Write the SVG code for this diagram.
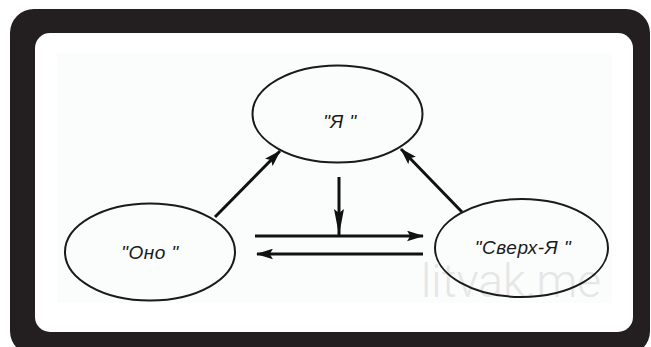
<svg xmlns="http://www.w3.org/2000/svg" width="651" height="347" viewBox="0 0 651 347">
<defs>
<style>
.node{fill:none;stroke:#1a1a1a;stroke-width:2}
.lbl{font-family:"Liberation Sans",Arial,sans-serif;font-style:italic;font-size:19px;fill:#1a1a1a;text-anchor:middle;letter-spacing:0.5px}
.edge{stroke:#111;stroke-width:3;fill:none}
</style>
<marker id="ah" viewBox="0 0 16 10" refX="15" refY="5" markerWidth="17" markerHeight="11" markerUnits="userSpaceOnUse" orient="auto">
<path d="M0,0 L16,5 L0,10 L3,5 Z" fill="#111"/>
</marker>
<marker id="ahn" viewBox="0 0 26 10" refX="26" refY="5" markerWidth="26" markerHeight="10" markerUnits="userSpaceOnUse" orient="auto">
<path d="M0,0 L26,5 L0,10 L4,5 Z" fill="#111"/>
</marker>
</defs>
<rect x="10" y="9" width="640" height="346" rx="24" fill="#231f20"/>
<rect x="35" y="33" width="598" height="299" rx="15" fill="#ffffff"/>
<rect x="57" y="53" width="555" height="250" fill="#fbfcfc"/>
<text x="421" y="297" font-family="Roboto,'Liberation Sans',sans-serif" font-weight="300" font-size="46" fill="#e6e6e6">litvak.me</text>
<g id="connectors">
<line class="edge" x1="215" y1="217" x2="280" y2="151" marker-end="url(#ah)"/>
<line class="edge" x1="462" y1="212" x2="401" y2="149" marker-end="url(#ah)"/>
<line class="edge" x1="339" y1="177" x2="339" y2="235" stroke-width="2.2" marker-end="url(#ahn)"/>
<line class="edge" x1="255" y1="236" x2="423" y2="236" marker-end="url(#ah)"/>
<line class="edge" x1="423" y1="254" x2="257" y2="254" marker-end="url(#ah)"/>
</g>
<g id="node-ya">
<ellipse class="node" cx="337.5" cy="114" rx="85" ry="48.5"/>
<text class="lbl" x="340" y="128">"Я "</text>
</g>
<g id="node-ono">
<ellipse class="node" cx="150" cy="252" rx="85" ry="48.5"/>
<text class="lbl" x="150" y="259">"Оно "</text>
</g>
<g id="node-sverkh-ya">
<ellipse class="node" cx="521.5" cy="248" rx="86.5" ry="49"/>
<text class="lbl" x="523" y="254">"Сверх-Я "</text>
</g>
</svg>
